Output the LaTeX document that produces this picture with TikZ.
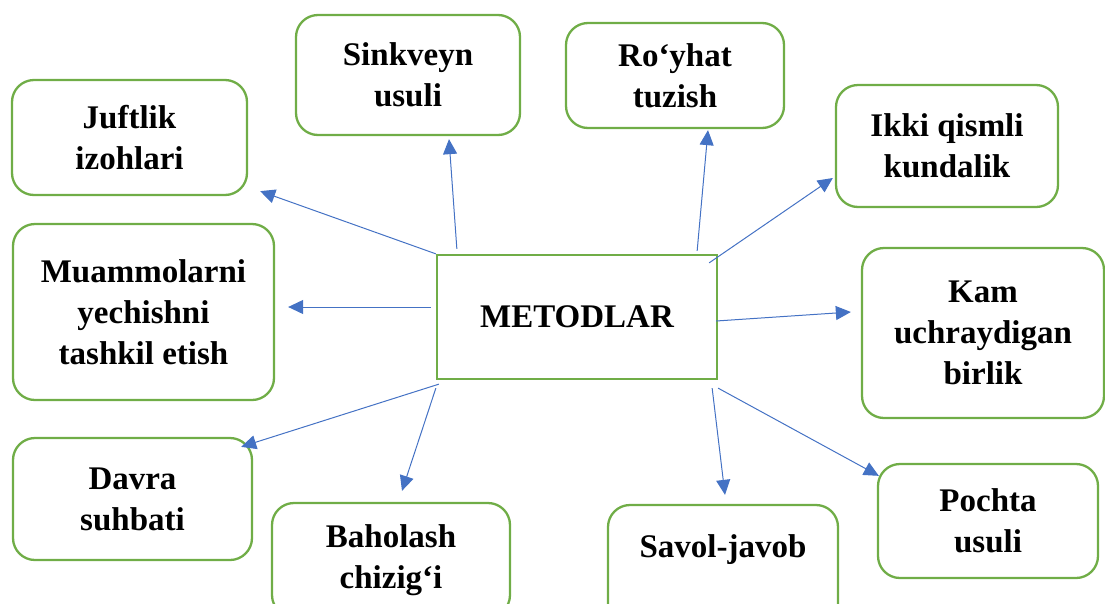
\documentclass[tikz,border=0pt]{standalone}
\usepackage{fontspec}
\setmainfont{Liberation Serif}
\usetikzlibrary{calc,arrows.meta}
\definecolor{boxgreen}{HTML}{70AD47}
\definecolor{arrblue}{HTML}{4472C4}
\tikzset{
  metbox/.style={draw=boxgreen, line width=2.3pt, rounded corners=22pt,
    align=center, inner sep=0pt, font=\fontsize{33}{41}\selectfont\bfseries},
  mainbox/.style={metbox, sharp corners},
  arr/.style={draw=arrblue, line width=1pt, -{Triangle[length=15pt,width=14pt,fill=arrblue]}}
}

\begin{document}
\begin{tikzpicture}[x=1pt,y=-1pt]
    \clip (0,0) rectangle (1105,603);
    % centre
    \node[mainbox, minimum width=280pt, minimum height=124pt] (metod) at (577,317) {METODLAR};
    % methods round it
    \node[metbox, minimum width=235pt, minimum height=115pt] (juft) at (129.5,137.5) {Juftlik\\izohlari};
    \node[metbox, minimum width=224pt, minimum height=120pt] (sink) at (408,75) {Sinkveyn\\usuli};
    \node[metbox, minimum width=218pt, minimum height=105pt] (royh) at (675,75.5) {Ro‘yhat\\tuzish};
    \node[metbox, minimum width=222pt, minimum height=122pt] (ikki) at (947,146) {Ikki qismli\\kundalik};
    \node[metbox, minimum width=261pt, minimum height=176pt] (muam) at (143.5,312) {Muammolarni\\yechishni\\tashkil etish};
    \node[metbox, minimum width=242pt, minimum height=170pt] (kam) at (983,333) {Kam\\uchraydigan\\birlik};
    \node[metbox, minimum width=239pt, minimum height=122pt] (davra) at (132.5,499) {Davra\\suhbati};
    \node[metbox, minimum width=238pt, minimum height=114pt] (bahol) at (391,560) {Baholash\\chizig‘i};
    \node[metbox, minimum width=230pt, minimum height=122pt, text height=22pt, text depth=40pt] (savol) at (723,566) {Savol-javob};
    \node[metbox, minimum width=220pt, minimum height=114pt] (pocht) at (988,521) {Pochta\\usuli};

    % arrows
    \draw[arr] (metod.north west) -- ($(juft.south east)+(12,-5)$);
    \draw[arr] ($(metod.north west)+(21,-5)$) -- ($(sink.south)+(41,3)$);
    \draw[arr] ($(metod.north east)+(-21,-3)$) -- ($(royh.south)+(33,1)$);
    \draw[arr] ($(metod.north east)+(-9,9)$) -- ($(ikki.west)+(-2,32)$);
    \draw[arr] ($(metod.west)+(-5,-10)$) -- ($(muam.east)+(13,-5)$);
    \draw[arr] ($(metod.east)+(-2,4)$) -- ($(kam.west)+(-10,-21)$);
    \draw[arr] ($(metod.south west)+(3,4)$) -- ($(davra.north east)+(-12,10)$);
    \draw[arr] ($(metod.south west)+(0,8)$) -- ($(bahol.north)+(11,-11)$);
    \draw[arr] ($(metod.south east)+(-6,8)$) -- ($(savol.north)+(2,-9)$);
    \draw[arr] ($(metod.south east)+(0,8)$) -- ($(pocht.north west)+(2,13)$);
\end{tikzpicture}
\end{document}
